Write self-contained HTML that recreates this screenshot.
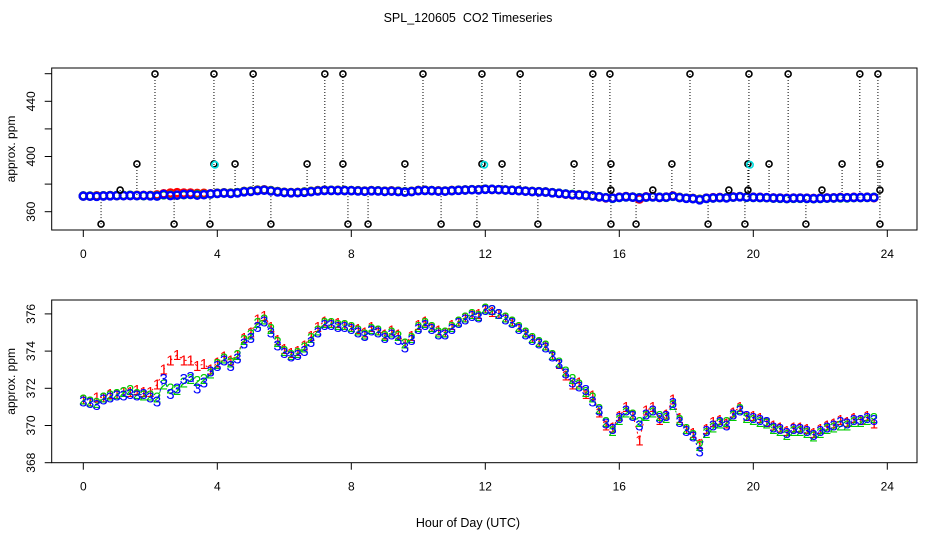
<!DOCTYPE html>
<html><head><meta charset="utf-8"><style>
html,body{margin:0;padding:0;background:#fff}
svg{display:block;font-family:"Liberation Sans",Arial,sans-serif}
</style></head><body>
<svg id="chart" width="936" height="540" viewBox="0 0 936 540">
<rect width="936" height="540" fill="#fff"/>
<text x="468" y="22" text-anchor="middle" font-size="12.5">SPL_120605&#160; CO2 Timeseries</text>
<g id="topPanel"></g>
<g id="botPanel"></g>
<text x="468" y="527" text-anchor="middle" font-size="12.5">Hour of Day (UTC)</text>
</svg>
<script>
const hours0 = 0, hourStep = 0.2;
const blue = [371.3,371.2,371.1,371.4,371.5,371.6,371.6,371.7,371.6,371.7,
371.5,371.3,372.5,371.7,372.0,372.5,372.6,372.0,372.3,372.9,
373.2,373.5,373.2,373.6,374.4,374.7,375.3,375.6,375.0,374.3,
373.9,373.7,373.8,374.0,374.5,375.0,375.4,375.4,375.3,375.3,
375.2,375.0,374.8,375.1,375.0,374.7,374.9,374.6,374.2,374.6,
375.2,375.4,375.2,374.9,374.9,375.2,375.5,375.7,375.9,375.8,
376.2,376.2,376.0,375.7,375.5,375.2,374.9,374.6,374.4,374.2,
373.7,373.3,372.8,372.3,372.1,371.9,371.3,370.8,370.1,369.8,
370.4,370.8,370.5,370.0,370.6,370.8,370.4,370.5,371.2,370.2,
369.7,369.4,368.6,369.7,370.0,370.2,370.0,370.6,370.8,370.5,
370.4,370.3,370.2,369.9,369.8,369.6,369.8,369.8,369.7,369.5,
369.7,369.9,370.0,370.2,370.1,370.3,370.3,370.4,370.3];
const green = [371.4,371.3,371.2,371.5,371.6,371.7,371.8,371.9,371.7,371.6,
371.6,371.5,372.2,372.0,371.9,372.3,372.5,372.4,372.5,372.8,
373.3,373.6,373.4,373.8,374.6,374.9,375.5,375.7,375.2,374.5,
374.0,373.8,373.9,374.2,374.7,375.1,375.5,375.5,375.4,375.4,
375.3,375.1,374.9,375.2,375.1,374.8,375.0,374.8,374.4,374.7,
375.3,375.5,375.3,375.0,375.0,375.3,375.6,375.8,376.0,375.9,
376.3,376.2,376.0,375.8,375.6,375.3,375.0,374.7,374.5,374.3,
373.8,373.4,372.9,372.5,372.2,371.8,371.5,370.9,370.2,369.7,
370.3,370.7,370.6,370.2,370.5,370.7,370.5,370.4,371.1,370.3,
369.8,369.5,368.9,369.6,369.9,370.1,370.2,370.5,370.9,370.4,
370.3,370.2,370.1,369.8,369.7,369.5,369.7,369.7,369.6,369.4,
369.6,369.8,369.9,370.0,370.0,370.2,370.2,370.3,370.4];
const red = [371.4,371.3,371.5,371.5,371.7,371.7,371.8,371.8,371.9,371.8,
371.8,372.2,373.0,373.5,373.8,373.5,373.5,373.2,373.3,373.0,
373.4,373.7,373.5,373.8,374.7,375.0,375.7,375.9,375.3,374.6,
374.1,373.9,374.0,374.3,374.8,375.3,375.6,375.5,375.5,375.4,
375.3,375.2,375.0,375.3,375.1,374.9,375.1,374.9,374.4,374.8,
375.4,375.6,375.3,375.1,375.0,375.4,375.6,375.8,376.0,376.0,
376.3,376.1,376.0,375.8,375.6,375.3,375.0,374.7,374.5,374.3,
373.8,373.3,372.7,372.2,372.3,371.7,371.6,370.7,370.0,369.9,
370.5,371.0,370.6,369.2,370.8,371.0,370.3,370.6,371.4,370.4,
369.8,369.6,369.0,369.8,370.2,370.3,370.1,370.7,371.0,370.5,
370.5,370.4,370.2,370.0,369.9,369.7,369.9,369.9,369.8,369.6,
369.8,370.0,370.1,370.3,370.2,370.4,370.3,370.5,370.1];
const outHours = [2.14,3.90,5.07,7.21,7.75,10.14,11.90,13.04,15.21,15.72,18.11,19.87,21.04,23.18,23.72,
1.60,3.90,4.53,6.68,7.75,9.60,11.90,12.50,14.65,15.75,17.57,19.84,20.47,22.65,23.78,
0.53,2.71,3.78,5.60,7.90,8.50,10.68,11.75,13.57,15.75,16.50,18.65,19.75,21.57,23.78,
1.10,15.75,17.00,19.27,19.84,22.05,23.78];
const outValues = [459.8,459.8,459.8,459.8,459.8,459.8,459.8,459.8,459.8,459.8,459.8,459.8,459.8,459.8,459.8,
394.6,394.6,394.6,394.6,394.6,394.6,394.6,394.6,394.6,394.6,394.6,394.6,394.6,394.6,394.6,
351,351,351,351,351,351,351,351,351,351,351,351,351,351,351,
375.7,375.7,375.7,375.7,375.7,375.7,375.7];
const cyanHours = [3.93,11.97,19.9];
const cyanValues = [394,394,394];
const xTicks = [0,4,8,12,16,20,24];
const topYTicks = [360,380,400,420,440,460];
const topYLabels = ["360","","400","","440",""];
const botYTicks = [368,370,372,374,376];
const botYLabels = ["368","370","372","374","376"];

const NS="http://www.w3.org/2000/svg";
const X0=51.7,X1=917;
const xs=h=>83.3+h*33.5;
const yT=v=>211.7-(v-360)*1.38;
const yB=v=>462.7-(v-368)*18.6;
function mk(tag,attrs,parent){const e=document.createElementNS(NS,tag);for(const k in attrs)e.setAttribute(k,attrs[k]);parent.appendChild(e);return e;}
const topG=document.getElementById('topPanel'), botG=document.getElementById('botPanel');

function frame(g,y0,y1,yfun,ticks,labels,name){
  let r=mk('rect',{x:X0,y:y0,width:X1-X0,height:y1-y0,fill:'none',stroke:'#000','stroke-width':1},g);
  
  
  xTicks.forEach(t=>{
    let l=mk('line',{x1:xs(t),x2:xs(t),y1:y1,y2:y1+7,stroke:'#000'},g);
    
    
    let tx=mk('text',{x:xs(t),y:y1+28,'text-anchor':'middle','font-size':12},g);
    tx.textContent=t;
    
    
  });
  ticks.forEach((t,i)=>{
    let l=mk('line',{x1:X0-7,x2:X0,y1:yfun(t),y2:yfun(t),stroke:'#000'},g);
    
    
    if(labels[i]){
      let tx=mk('text',{x:0,y:0,'text-anchor':'middle','font-size':12,transform:`translate(35,${yfun(t)}) rotate(-90)`},g);
      tx.textContent=labels[i];
      
      
    }
  });
  let yl=mk('text',{x:0,y:0,'text-anchor':'middle','font-size':12,transform:`translate(15,${(y0+y1)/2}) rotate(-90)`},g);
  yl.textContent='approx. ppm';
  
  
}
frame(topG,68,230,yT,topYTicks,topYLabels,'top');
frame(botG,300,462.7,yB,botYTicks,botYLabels,'bottom');

outHours.forEach((h,i)=>{
  const idx=Math.min(blue.length-1,Math.max(0,Math.round((h-hours0)/hourStep)));
  let l=mk('line',{x1:xs(h),x2:xs(h),y1:yT(outValues[i]),y2:yT(blue[idx]),stroke:'#000','stroke-width':1,'stroke-dasharray':'1,2'},topG);
  
  
});
[[red,'#f00','red'],[green,'#0c0','green'],[blue,'#00f','blue']].forEach(([arr,c,n])=>{
  arr.forEach((v,i)=>{
    let ci=mk('circle',{cx:xs(hours0+i*hourStep),cy:yT(v),r:3.6,fill:'none',stroke:c,'stroke-width':2.4},topG);
    
    
  });
});
outHours.forEach((h,i)=>{
  let ci=mk('circle',{cx:xs(h),cy:yT(outValues[i]),r:3,fill:'none',stroke:'#000','stroke-width':1.6},topG);
  
  
});
cyanHours.forEach((h,i)=>{
  let ci=mk('circle',{cx:xs(h),cy:yT(cyanValues[i]),r:3.2,fill:'none',stroke:'#0dd','stroke-width':1.6},topG);
  
  
});

[[red,'#f00','1','red'],[green,'#0c0','2','green'],[blue,'#00f','3','blue']].forEach(([arr,c,ch,n])=>{
  let d=arr.map((v,i)=>(i?'L':'M')+xs(hours0+i*hourStep).toFixed(1)+','+yB(v).toFixed(1)).join('');
  let p=mk('path',{d:d,fill:'none',stroke:c,'stroke-width':1,'stroke-dasharray':'2,4'},botG);
  
  
  arr.forEach((v,i)=>{
    let t=mk('text',{x:xs(hours0+i*hourStep),y:yB(v)+5,'text-anchor':'middle','font-size':15,fill:c},botG);
    t.textContent=ch;
    
    
  });
});
</script>
</body></html>
